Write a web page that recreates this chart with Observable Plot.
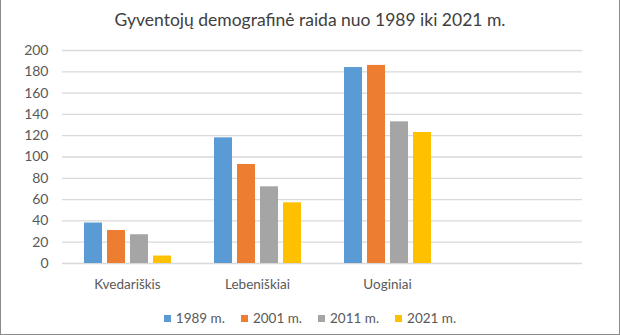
<!DOCTYPE html>
<html>
<head>
<meta charset="utf-8">
<script src="https://cdn.jsdelivr.net/npm/d3@7"></script>
<script src="https://cdn.jsdelivr.net/npm/@observablehq/plot@0.6"></script>
<style>
  html, body { margin: 0; padding: 0; background: #fff; }
  #wrap { position: relative; width: 620px; height: 335px; overflow: hidden; font-family: Lato, "Noto Sans", sans-serif; }
  #title { position: absolute; top: 9px; left: 0; width: 620px; text-align: center; font-size: 17.5px; color: #404040; }
  #chart { position: absolute; top: 38px; left: 0; }
  #legend { position: absolute; top: 310px; left: 0; width: 620px; display: flex; justify-content: center; font-size: 13.5px; color: #595959; }
  .item { display: flex; align-items: center; margin: 0 8px; }
  .sw { width: 7px; height: 7px; margin-right: 5px; }
  #border { position: absolute; left: 0; top: 0; width: 618px; height: 334px; border-left: 1px solid #8c8c8c; border-right: 1px solid #8c8c8c; border-bottom: 1px solid #8c8c8c; pointer-events: none; }
</style>
</head>
<body>
<div id="wrap">
  <div id="title"></div>
  <div id="chart"></div>
  <div id="legend"></div>
  <div id="border"></div>
</div>
<script>
const titleText = "Gyventojų demografinė raida nuo 1989 iki 2021 m.";
const categories = ["Kvedariškis", "Lebeniškiai", "Uoginiai", ""];
const years = ["1989 m.", "2001 m.", "2011 m.", "2021 m."];
const v1989 = [38, 118, 184];
const v2001 = [31, 93, 186];
const v2011 = [27, 72, 133];
const v2021 = [7, 57, 123];
const colors = ["#5b9bd5", "#ed7d31", "#a5a5a5", "#ffc000"];
const yTicks = [0, 20, 40, 60, 80, 100, 120, 140, 160, 180, 200];

const series = [v1989, v2001, v2011, v2021];
const data = [];
categories.forEach((c, i) => {
  years.forEach((y, j) => {
    const v = series[j][i];
    data.push({category: c, year: y, value: v === undefined ? NaN : v});
  });
});

document.getElementById("title").textContent = titleText;

const chart = Plot.plot({
  width: 620,
  height: 257,
  marginLeft: 62,
  marginRight: 38,
  marginTop: 12,
  marginBottom: 32,
  fx: {domain: categories, padding: 0, label: null},
  x: {domain: years, paddingInner: 0.22, paddingOuter: 0.84, axis: null},
  y: {domain: [0, 200], label: null},
  color: {domain: years, range: colors},
  style: {fontFamily: "Lato, 'Noto Sans', sans-serif", fontSize: "13.5px", color: "#595959", background: "transparent", overflow: "visible"},
  marks: [
    Plot.gridY(yTicks, {stroke: "#d9d9d9", strokeOpacity: 1, strokeWidth: 1.3}),
    Plot.barY(data, {fx: "category", x: "year", y: "value", fill: "year"}),
    Plot.axisY(yTicks, {tickSize: 0, tickPadding: 14, label: null, fill: "#595959", fontSize: 14}),
    Plot.axisFx({anchor: "bottom", tickSize: 0, tickPadding: 16, label: null, fill: "#595959"})
  ]
});
document.getElementById("chart").appendChild(chart);

const legend = document.getElementById("legend");
years.forEach((y, j) => {
  const item = document.createElement("div");
  item.className = "item";
  const sw = document.createElement("div");
  sw.className = "sw";
  sw.style.background = colors[j];
  const t = document.createElement("span");
  t.textContent = y;
  item.appendChild(sw);
  item.appendChild(t);
  legend.appendChild(item);
});
</script>
</body>
</html>
